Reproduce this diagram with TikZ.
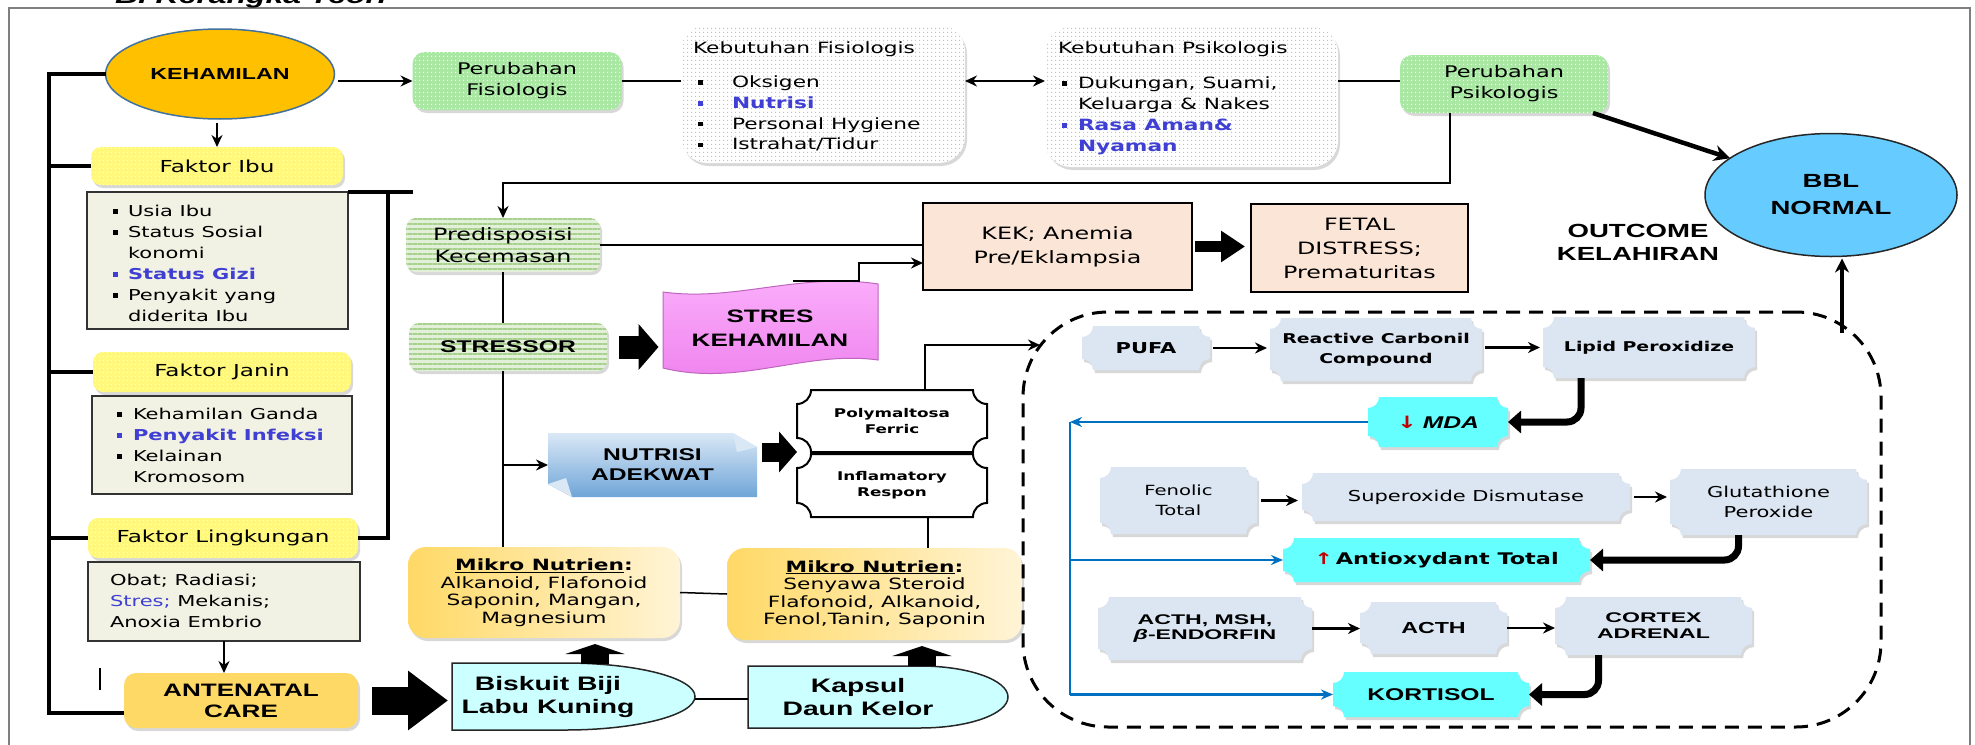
\documentclass[tikz,border=0pt]{standalone}
\usepackage{fontspec}
\setmainfont{DejaVu Sans}
\newfontfamily\dv[FakeStretch=1.4]{DejaVu Sans}
\newfontfamily\ar[FakeStretch=1.45]{Liberation Sans}
\newfontfamily\arw[FakeStretch=1.65]{Liberation Sans}
\usetikzlibrary{arrows.meta,calc,shadows,patterns.meta,shapes.geometric}
\definecolor{kehOr}{HTML}{FFC000}
\definecolor{kehBd}{HTML}{41719C}
\definecolor{grn}{HTML}{A9E8A3}
\definecolor{grnDot}{HTML}{9BD59B}
\definecolor{yel}{HTML}{FFF87A}
\definecolor{lstF}{HTML}{F2F2E4}
\definecolor{ancF}{HTML}{FFD966}
\definecolor{mikA}{HTML}{FFD966}
\definecolor{mikB}{HTML}{FFF4D6}
\definecolor{cyanL}{HTML}{CCFFFF}
\definecolor{stripeB}{HTML}{E2F0D9}
\definecolor{stripeL}{HTML}{A9D18E}
\definecolor{peach}{HTML}{FBE5D6}
\definecolor{plqC}{HTML}{DCE6F2}
\definecolor{cyanB}{HTML}{66FFFF}
\definecolor{bluL}{HTML}{0070C0}
\definecolor{bblC}{HTML}{66CCFF}
\definecolor{itb}{HTML}{3F3FD4}
\definecolor{redA}{HTML}{C00000}
\definecolor{pinkA}{HTML}{FBB0FB}
\definecolor{pinkB}{HTML}{EE80EE}
\definecolor{nutA}{HTML}{DAE8F6}
\definecolor{nutB}{HTML}{6FA5D8}
\definecolor{frameC}{HTML}{7F7F7F}
\pgfdeclarelayer{bg}
\pgfsetlayers{bg,main}
\newcommand\bsq{\rule[2.8pt]{4.5pt}{4.5pt}}
\newcommand\itm[2][15pt]{\makebox[#1][l]{\bsq}#2}
\newcommand\plq[3][11]{%
\begin{pgfonlayer}{bg}
\path[#3] ($(#2.north west)+(#1,0)$) -- ($(#2.north east)+(-#1,0)$)
 .. controls ($(#2.north east)+(-#1,0.55*#1)$) and ($(#2.north east)+(-0.55*#1,#1)$) .. ($(#2.north east)+(0,#1)$)
 -- ($(#2.south east)+(0,-#1)$)
 .. controls ($(#2.south east)+(-0.55*#1,-#1)$) and ($(#2.south east)+(-#1,-0.55*#1)$) .. ($(#2.south east)+(-#1,0)$)
 -- ($(#2.south west)+(#1,0)$)
 .. controls ($(#2.south west)+(#1,-0.55*#1)$) and ($(#2.south west)+(0.55*#1,-#1)$) .. ($(#2.south west)+(0,-#1)$)
 -- ($(#2.north west)+(0,#1)$)
 .. controls ($(#2.north west)+(0.55*#1,#1)$) and ($(#2.north west)+(#1,0.55*#1)$) .. cycle;
\end{pgfonlayer}}
\begin{document}
\begin{tikzpicture}[x=1pt,y=-1pt,
 every node/.style={inner sep=0pt,outer sep=0pt},
 ln/.style={line width=2.5pt},
 arr/.style={line width=2.5pt,-{Stealth[length=12pt,width=11pt]}},
 dbl/.style={line width=2.5pt,{Stealth[length=12pt,width=11pt]}-{Stealth[length=12pt,width=11pt]}},
 brk/.style={line width=3.5pt},
 bl/.style={line width=2.5pt,draw=bluL},
 barr/.style={bl,-{Stealth[length=12pt,width=10pt]}},
 fat/.style={line width=7pt,rounded corners=14pt,-{Triangle[length=13pt,width=22pt]}},
 shd/.style={drop shadow={opacity=0.3,shadow xshift=2pt,shadow yshift=-3pt}},
 grnbox/.style={shd,rounded corners=12pt,preaction={fill=grn},pattern={Dots[distance=4pt,radius=0.9pt]},pattern color=white,align=center,font={\dv\fontsize{16}{21}\selectfont}},
 kbox/.style={shd,rounded corners=26pt,preaction={fill=white},pattern={Dots[distance=4pt,radius=0.8pt]},pattern color=grnDot},
 ybox/.style={shd,rounded corners=10pt,preaction={fill=yel},pattern={Dots[distance=4pt,radius=0.8pt]},pattern color=white,font={\dv\fontsize{16.5}{20}\selectfont}},
 lbox/.style={draw=black!80,line width=1.5pt,fill=lstF},
 lst/.style={anchor=north west,align=left,font={\dv\fontsize{15}{21}\selectfont}},
 sbox/.style={shd,rounded corners=10pt,preaction={fill=stripeB},pattern={Lines[distance=5pt,line width=1.6pt]},pattern color=stripeL},
 pbox/.style={draw=black,line width=1.5pt,fill=peach,align=center,font={\dv\fontsize{17}{24}\selectfont}},
 pl/.style={align=center},
 plF/.style={fill=plqC,shd},
 cyF/.style={fill=cyanB,shd},
 blk/.style={fill=black,draw=none}
]
\useasboundingbox (0,0) rectangle (1975,744);
\begin{pgfonlayer}{bg}
\fill[white] (0,0) rectangle (1975,744);
\end{pgfonlayer}
% frame
\draw[frameC,line width=1.5pt] (9,760) -- (9,8) -- (1970,8) -- (1970,760);
\node[anchor=base west,font={\ar\bfseries\itshape\fontsize{22}{26}\selectfont}] (title) at (115,3) {B. Kerangka Teori};

% ---------- top row
\node[ellipse,draw=kehBd,line width=1.5pt,fill=kehOr,minimum width=229,minimum height=90,font={\ar\bfseries\fontsize{16}{19}\selectfont}] (keh) at (220,74) {KEHAMILAN};
\node[grnbox,minimum width=209,minimum height=58] (fisio) at (517,81) {Perubahan\\Fisiologis};
\node[kbox,minimum width=284,minimum height=138] (kfis) at (823,94) {};
\node[anchor=base west,font={\dv\fontsize{15.5}{20}\selectfont}] (kfisH) at (693,53) {Kebutuhan Fisiologis};
\node[lst,font={\dv\fontsize{15.5}{20.7}\selectfont}] (kfisL) at (698,76) {\itm[34pt]{Oksigen}\\\textcolor{itb}{\itm[34pt]{\bfseries Nutrisi}}\\\itm[34pt]{Personal Hygiene}\\\itm[34pt]{Istrahat/Tidur}};
\node[kbox,minimum width=293,minimum height=140] (kpsi) at (1191.5,97) {};
\node[anchor=base west,font={\dv\fontsize{15.5}{20}\selectfont}] (kpsiH) at (1058,53) {Kebutuhan Psikologis};
\node[lst,font={\dv\fontsize{15.5}{21}\selectfont}] (kpsiL) at (1062,77) {\itm[16pt]{Dukungan, Suami,}\\\hspace*{16pt}Keluarga \& Nakes\\\textcolor{itb}{\itm[16pt]{\bfseries Rasa Aman\&}}\\\hspace*{16pt}\textcolor{itb}{\bfseries Nyaman}};
\node[grnbox,minimum width=208,minimum height=58] (psiko) at (1504,84) {Perubahan\\Psikologis};
\node[ellipse,draw=black!85,line width=1.5pt,fill=bblC,minimum width=252,minimum height=123,align=center,font={\ar\bfseries\fontsize{19}{27}\selectfont}] (bbl) at (1831,195) {BBL\\NORMAL};
\node[align=center,font={\ar\bfseries\fontsize{19}{23}\selectfont}] (outc) at (1638,242) {OUTCOME\\KELAHIRAN};

% ---------- left column
\node[ybox,minimum width=252,minimum height=38] (fibu) at (217,166) {Faktor Ibu};
\node[lbox,minimum width=261,minimum height=137] (fibuL) at (217.5,260.5) {};
\node[lst] (fibuT) at (113,205) {\itm{Usia Ibu}\\\itm{Status Sosial}\\\hspace*{15pt}konomi\\\textcolor{itb}{\itm{\bfseries Status Gizi}}\\\itm{Penyakit yang}\\\hspace*{15pt}diderita Ibu};
\node[ybox,minimum width=258,minimum height=40] (fjanin) at (222,372) {Faktor Janin};
\node[lbox,minimum width=260,minimum height=98] (fjaninL) at (222,445) {};
\node[lst] (fjaninT) at (117,408) {\itm[16pt]{Kehamilan Ganda}\\\textcolor{itb}{\itm[16pt]{\bfseries Penyakit Infeksi}}\\\itm[16pt]{Kelainan}\\\hspace*{16pt}Kromosom};
\node[ybox,minimum width=270,minimum height=40] (fling) at (223,538) {Faktor Lingkungan};
\node[lbox,minimum width=272,minimum height=79] (flingL) at (224,601.5) {};
\node[lst] (flingT) at (110,574) {Obat; Radiasi;\\\textcolor{itb}{Stres;} Mekanis;\\Anoxia Embrio};
\node[shd,fill=ancF,rounded corners=12pt,minimum width=234,minimum height=55,align=center,font={\ar\bfseries\fontsize{18}{21}\selectfont}] (anc) at (241,700.5) {ANTENATAL\\CARE};

% ---------- bottom shapes
\begin{pgfonlayer}{bg}
\path[fill=cyanL,draw=black!85,line width=1.5pt] (452,663) -- (565,663) .. controls (637,663) and (695,678) .. (695,696.5) .. controls (695,715) and (637,730) .. (565,730) -- (452,730) -- cycle;
\path[fill=cyanL,draw=black!85,line width=1.5pt] (748,666) -- (920,666) .. controls (968.6,666) and (1008,680) .. (1008,697) .. controls (1008,714) and (968.6,728) .. (920,728) -- (748,728) -- cycle;
\path[top color=pinkA,bottom color=pinkB,draw=pinkB!80!black,line width=1pt] (663,292) .. controls (735,302) and (800,272) .. (878,284) -- (878,360) .. controls (805,350) and (740,387) .. (663,368) -- cycle;
\path[top color=nutA,bottom color=nutB] (548,433) -- (733,433) -- (757,447) -- (757,497) -- (572,497) -- (548,484) -- cycle;
\path[fill=nutA] (733,433) -- (757,447) -- (737,452) -- cycle;
\path[fill=nutA] (548,484) -- (572,497) -- (566,478) -- cycle;
\end{pgfonlayer}
\node[align=center,minimum width=192,minimum height=67,font={\ar\bfseries\fontsize{19.5}{23}\selectfont}] (bisk) at (548,696.5) {Biskuit Biji\\Labu Kuning};
\node[align=center,minimum width=220,minimum height=62,font={\ar\bfseries\fontsize{19.5}{23}\selectfont}] (kapsul) at (858,697) {Kapsul\\Daun Kelor};
\node[shd,rounded corners=18pt,left color=mikA,right color=mikB,minimum width=272,minimum height=91,align=center,font={\dv\fontsize{15.5}{17.5}\selectfont}] (mik1) at (544,592.5) {\textbf{\underline{Mikro Nutrien}:}\\Alkanoid, Flafonoid\\Saponin, Mangan,\\Magnesium};
\node[shd,rounded corners=18pt,left color=mikA,right color=mikB,minimum width=295,minimum height=92,align=center,font={\dv\fontsize{15.5}{17.5}\selectfont}] (mik2) at (874.5,594) {\textbf{\underline{Mikro Nutrien}:}\\Senyawa Steroid\\Flafonoid, Alkanoid,\\Fenol,Tanin, Saponin};

% ---------- middle
\node[pl,minimum width=190,minimum height=62,font={\dv\bfseries\fontsize{12}{16}\selectfont}] (poly) at (892,421) {Polymaltosa\\Ferric};
\plq[14]{poly}{fill=white,draw=black,line width=2pt}
\node[pl,minimum width=190,minimum height=63,font={\dv\bfseries\fontsize{12}{16}\selectfont}] (infl) at (892,485.5) {Inflamatory\\Respon};
\plq[14]{infl}{fill=white,draw=black,line width=2pt}
\node[align=center,minimum width=209,minimum height=64,font={\ar\bfseries\fontsize{17}{20}\selectfont}] (nutrisi) at (652.5,465) {NUTRISI\\ADEKWAT};
\node[sbox,minimum width=194,minimum height=54,align=center,font={\dv\fontsize{17}{22}\selectfont}] (predis) at (503,245) {Predisposisi\\Kecemasan};
\node[sbox,minimum width=198,minimum height=48,font={\ar\bfseries\fontsize{17}{20}\selectfont}] (stressor) at (508,347) {STRESSOR};
\node[align=center,minimum width=215,minimum height=86,font={\ar\bfseries\fontsize{18}{24}\selectfont}] (stres) at (770,328) {STRES\\KEHAMILAN};
\node[pbox,minimum width=269,minimum height=87] (kek) at (1057.5,246.5) {KEK; Anemia\\Pre/Eklampsia};
\node[pbox,minimum width=217,minimum height=88] (fetal) at (1359.5,248) {FETAL\\DISTRESS;\\Prematuritas};

% ---------- dashed region
\node[draw,line width=3pt,dash pattern=on 14pt off 9pt,rounded corners=85pt,minimum width=858,minimum height=415] (region) at (1452,519.5) {};
\node[pl,minimum width=128,minimum height=44,font={\dv\bfseries\fontsize{15}{18}\selectfont}] (pufa) at (1146,348) {PUFA};
\plq{pufa}{plF}
\node[pl,minimum width=212,minimum height=63,font={\dv\bfseries\fontsize{13.5}{20}\selectfont}] (rcc) at (1376,349.5) {Reactive Carbonil\\Compound};
\plq{rcc}{plF}
\node[pl,minimum width=212,minimum height=61,font={\dv\bfseries\fontsize{13.5}{18}\selectfont}] (lipid) at (1649,347.5) {Lipid Peroxidize};
\plq{lipid}{plF}
\node[pl,minimum width=140,minimum height=50,font={\ar\bfseries\itshape\fontsize{17}{20}\selectfont}] (mda) at (1438,422) {\textcolor{redA}{\dv\upshape ↓}\,\,MDA};
\plq{mda}{cyF}
\node[pl,minimum width=157,minimum height=67,font={\dv\fontsize{14}{20}\selectfont}] (fenolic) at (1178.5,500.5) {Fenolic\\Total};
\plq{fenolic}{plF}
\node[pl,minimum width=328,minimum height=48,font={\dv\fontsize{15}{18}\selectfont}] (sod) at (1466,497) {Superoxide Dismutase};
\plq{sod}{plF}
\node[pl,minimum width=197,minimum height=66,font={\dv\fontsize{15}{20}\selectfont}] (glut) at (1768.5,502) {Glutathione\\Peroxide};
\plq{glut}{plF}
\node[pl,minimum width=307,minimum height=44,font={\dv\bfseries\fontsize{16}{18}\selectfont}] (antiox) at (1436.5,560) {\textcolor{redA}{↑}\,Antioxydant Total};
\plq{antiox}{cyF}
\node[pl,minimum width=214,minimum height=63,font={\arw\bfseries\fontsize{14}{15.5}\selectfont}] (acthmsh) at (1205,628.5) {ACTH, MSH,\\\textit{β}-ENDORFIN};
\plq{acthmsh}{plF}
\node[pl,minimum width=147,minimum height=52,font={\ar\bfseries\fontsize{16}{18}\selectfont}] (acth) at (1433.5,628) {ACTH};
\plq{acth}{plF}
\node[pl,minimum width=197,minimum height=58,font={\arw\bfseries\fontsize{14}{16}\selectfont}] (cortex) at (1653.5,626) {CORTEX\\ADRENAL};
\plq{cortex}{plF}
\node[pl,minimum width=196,minimum height=45,font={\ar\bfseries\fontsize{17}{20}\selectfont}] (kortisol) at (1431,694.5) {KORTISOL};
\plq{kortisol}{cyF}

% ---------- coordinates
\coordinate (LT) at (49,74);
\coordinate (LB) at (49,713);
\coordinate (RT) at (388,192);
\coordinate (RT2) at (413,192);
\coordinate (tk1) at (100,668);
\coordinate (tk2) at (100,690);
\coordinate (C1) at (1450,183);
\coordinate (S1) at (793,281);
\coordinate (S2) at (859,263);
\coordinate (D1) at (1040,345);
\coordinate (N1) at (762,452);
\coordinate (BT) at (695,699);
\coordinate (BU) at (595,664);
\coordinate (KU) at (922,666);
\coordinate (U1) at (1842,333);
\coordinate (BL) at (1070,422);
\coordinate (IF) at ([xshift=36pt]infl.south);
\coordinate (PN) at ([xshift=33pt]poly.north);
\coordinate (LP) at ([xshift=-68pt]lipid.south);
\coordinate (GP) at ([xshift=-30pt]glut.south);
\coordinate (CP) at ([xshift=-55pt]cortex.south);
\coordinate (PS) at ([xshift=-15pt]psiko.south east);
\coordinate (AE) at ([xshift=14pt]anc.east);
\coordinate (SA) at ([xshift=12pt]stressor.east);

% ---------- connectors: left
\draw[brk] (keh.west) -- (keh.west -| LT) -- (LB) -- (LB -| anc.west);
\draw[brk] (LT |- fibu.west) -- (fibu.west);
\draw[brk] (LT |- fjanin.west) -- (fjanin.west);
\draw[brk] (LT |- fling.west) -- (fling.west);
\draw[line width=1.5pt] (tk1) -- (tk2);
\draw[brk] (fibuL.north east) -- (RT2);
\draw[brk] (RT) -- (RT |- fling.east) -- (fling.east);
\draw[arr,shorten <=4pt] (keh.south -| fibu.north) -- (fibu.north);
\draw[arr] (flingL.south) -- (flingL.south |- anc.north);
\draw[line width=28pt,-{Triangle[length=40pt,width=57pt]},shorten >=4pt] (AE) -- (AE -| bisk.west);

% ---------- connectors: top
\draw[arr,shorten <=3pt] (keh.east |- fisio.west) -- (fisio.west);
\draw[ln] (fisio.east) -- (fisio.east -| kfis.west);
\draw[dbl] (kfis.east |- fisio.east) -- (kpsi.west |- fisio.east);
\draw[ln] (kpsi.east |- fisio.east) -- (psiko.west |- fisio.east);
\draw[line width=4.5pt,-{Stealth[length=16pt,width=16pt]}] (PS) -- (bbl.160);
\draw[arr] (psiko.south -| C1) -- (C1) -| (predis.north);

% ---------- connectors: middle
\draw[ln] (predis.east) -- (predis.east -| kek.west);
\draw[ln] (predis.south) -- (predis.south |- stressor.north);
\draw[ln] (predis.south |- stressor.south) -- (predis.south |- mik1.north);
\draw[arr] (predis.south |- nutrisi.west) -- (nutrisi.west);
\draw[line width=23pt,-{Triangle[length=20pt,width=45pt]},shorten >=4pt] (SA) -- (SA -| stres.west);
\draw[line width=19pt,-{Triangle[length=18pt,width=40pt]}] (N1) -- (N1 -| poly.west);
\draw[arr] (S1) -| (S2) -- (S2 -| kek.west);
\draw[line width=11pt,-{Triangle[length=24pt,width=30pt]},shorten <=3pt,shorten >=6pt] (kek.east) -- (kek.east -| fetal.west);
\draw[arr] (PN) |- (D1);
\draw[ln] (IF) -- (IF |- mik2.north);
\draw[line width=1.5pt] (mik1.east) -- (mik2.west);
\draw[line width=1.5pt] (BT) -- (BT -| kapsul.west);
\draw[line width=28pt,-{Triangle[length=10pt,width=59pt]},shorten >=6pt] (BU) -- (BU |- mik1.south);
\draw[line width=28pt,-{Triangle[length=10pt,width=59pt]},shorten >=6pt] (KU) -- (KU |- mik2.south);

% ---------- connectors: region
\draw[line width=4pt,-{Stealth[length=14pt,width=14pt]},shorten >=2pt] (U1) -- (U1 |- bbl.south);
\draw[arr,shorten <=3pt,shorten >=3pt] (pufa.east) -- (pufa.east -| rcc.west);
\draw[arr,shorten <=3pt,shorten >=3pt] (rcc.east |- lipid.west) -- (lipid.west);
\draw[fat] (LP) |- (mda.east);
\draw[barr] (mda.west) -- (BL);
\draw[bl] (BL) -- (BL |- kortisol.west);
\draw[barr] (BL |- antiox.west) -- (antiox.west);
\draw[barr] (BL |- kortisol.west) -- (kortisol.west);
\draw[arr,shorten <=4pt,shorten >=4pt] (fenolic.east) -- (fenolic.east -| sod.west);
\draw[arr,shorten <=4pt,shorten >=3pt] (sod.east) -- (sod.east -| glut.west);
\draw[fat] (GP) |- (antiox.east);
\draw[arr] (acthmsh.east) -- (acthmsh.east -| acth.west);
\draw[arr] (acth.east) -- (acth.east -| cortex.west);
\draw[fat] (CP) |- (kortisol.east);
\end{tikzpicture}
\end{document}
